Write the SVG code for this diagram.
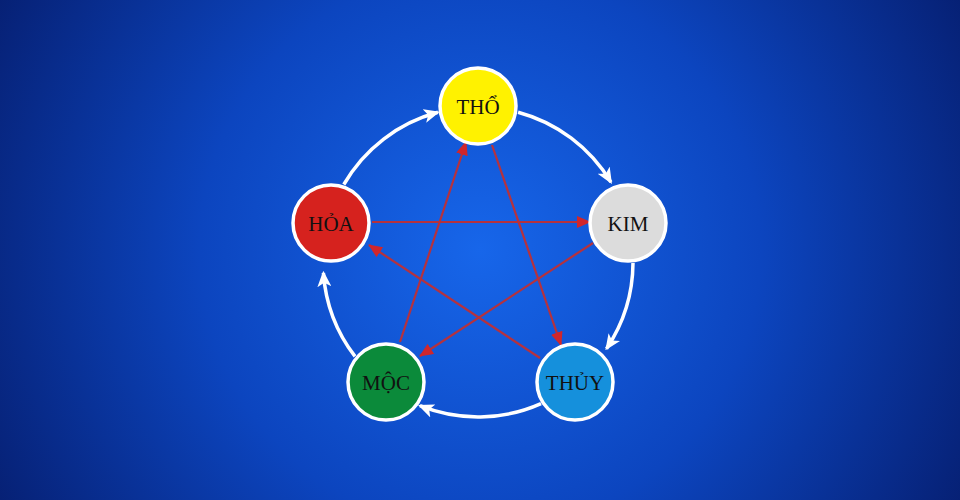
<svg xmlns="http://www.w3.org/2000/svg" width="960" height="500" viewBox="0 0 960 500">
<defs>
<radialGradient id="bg" cx="480" cy="250" r="560" gradientUnits="userSpaceOnUse">
<stop offset="0" stop-color="#1766ea"/><stop offset="0.5" stop-color="#0c45bf"/><stop offset="1" stop-color="#061e70"/>
</radialGradient>
<marker id="wa" markerWidth="16" markerHeight="14" refX="14" refY="7" orient="auto" markerUnits="userSpaceOnUse">
<path d="M0,0 L16,7 L0,14 L4,7 Z" fill="#fff"/>
</marker>
<marker id="ra" markerWidth="14" markerHeight="12" refX="13" refY="6" orient="auto" markerUnits="userSpaceOnUse">
<path d="M0,0 L14,6 L0,12 Z" fill="#d0262c"/>
</marker>
</defs>
<style>
.arc{fill:none;stroke:#fff;stroke-width:3.5}
.red{stroke:#b5323e;stroke-width:2.2;fill:none}
.n{stroke:#fff;stroke-width:3.5}
.t{font-family:"Liberation Serif",serif;font-size:21px;fill:#111;text-anchor:middle}
</style>
<rect width="960" height="500" fill="url(#bg)"/>
<g id="connectors">
<path class="arc" d="M518.1,112.3 A155,155 0 0 1 610.9,182.2" marker-end="url(#wa)"/>
<path class="arc" d="M633,263.1 A155,155 0 0 1 606.5,348.7" marker-end="url(#wa)"/>
<path class="arc" d="M541,403.6 A155,155 0 0 1 419.9,405.7" marker-end="url(#wa)"/>
<path class="arc" d="M355,356.4 A155,155 0 0 1 323.4,272.8" marker-end="url(#wa)"/>
<path class="arc" d="M343.8,184.5 A155,155 0 0 1 437.9,112.3" marker-end="url(#wa)"/>
<line class="red" x1="372" y1="222" x2="590" y2="222" marker-end="url(#ra)"/>
<line class="red" x1="400" y1="342" x2="466" y2="142" marker-end="url(#ra)"/>
<line class="red" x1="492" y1="145" x2="561" y2="345" marker-end="url(#ra)"/>
<line class="red" x1="593" y1="243" x2="420" y2="356" marker-end="url(#ra)"/>
<line class="red" x1="540" y1="358" x2="369" y2="245" marker-end="url(#ra)"/>
</g>
<g id="tho"><circle class="n" cx="478" cy="106" r="38" fill="#fff200"/><text class="t" x="478" y="114">THỔ</text></g>
<g id="kim"><circle class="n" cx="628" cy="223" r="38" fill="#dcdcdc"/><text class="t" x="628" y="231">KIM</text></g>
<g id="thuy"><circle class="n" cx="575" cy="382" r="38" fill="#1590dc"/><text class="t" x="575" y="390">THỦY</text></g>
<g id="moc"><circle class="n" cx="386" cy="382" r="38" fill="#0b8a3a"/><text class="t" x="386" y="390">MỘC</text></g>
<g id="hoa"><circle class="n" cx="331" cy="223" r="38" fill="#d6221e"/><text class="t" x="331" y="231">HỎA</text></g>
</svg>
